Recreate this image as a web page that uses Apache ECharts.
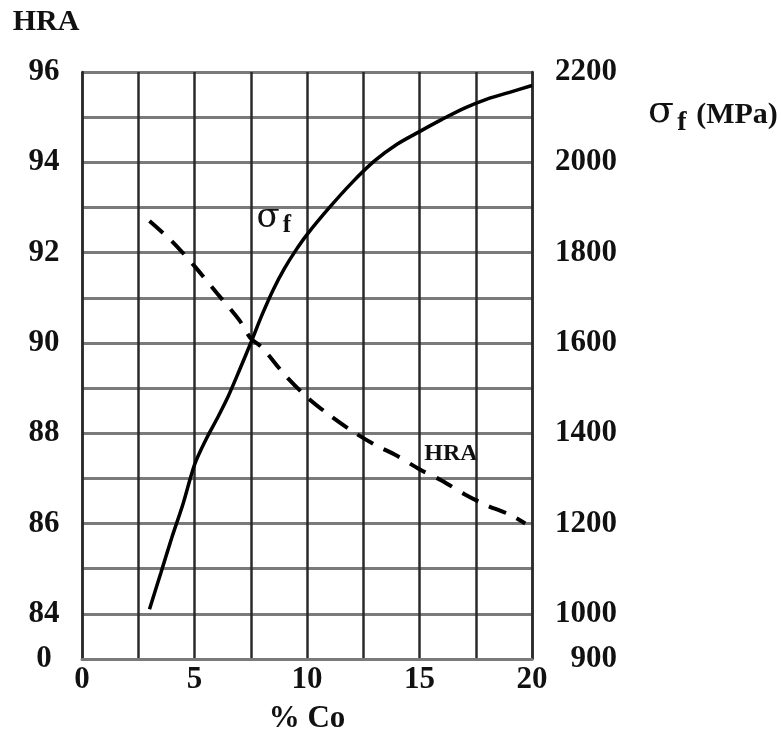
<!DOCTYPE html>
<html>
<head>
<meta charset="utf-8">
<title>HRA and flexural strength vs % Co</title>
<script src="https://cdn.jsdelivr.net/npm/echarts@6/dist/echarts.min.js"></script>
<style>
  html, body { margin: 0; padding: 0; background: #fff; }
  #chart { width: 782px; height: 735px; }
</style>
</head>
<body>
<div id="chart"></div>
<script>
// cobalt content (%) and fracture strength sigma_f (MPa), solid curve
const sigmaCo = [3.0, 3.5, 4.0, 4.5, 5.0, 5.5, 6.0, 6.5, 7.0, 7.5, 8.0, 8.5, 9.0, 9.5, 10.0, 11.0, 12.0, 13.0, 14.0, 15.0, 16.0, 17.0, 18.0, 19.0, 20.0];
const sigmaMPa = [1010, 1090, 1170, 1245, 1330, 1385, 1432, 1482, 1540, 1600, 1662, 1718, 1765, 1805, 1840, 1900, 1955, 2003, 2040, 2068, 2095, 2120, 2140, 2155, 2170];

// hardness HRA, dashed curve
const hraCo = [3.0, 4.0, 5.0, 6.0, 7.0, 7.5, 8.0, 9.0, 10.0, 11.0, 12.0, 13.0, 14.0, 15.0, 16.0, 17.0, 18.0, 19.0, 19.7];
const hraVal = [92.7, 92.25, 91.7, 91.1, 90.5, 90.1, 89.9, 89.3, 88.8, 88.4, 88.05, 87.75, 87.5, 87.2, 86.95, 86.65, 86.4, 86.2, 86.0];

// tick labels (axis is broken: the lowest line is labelled 0 / 900)
const xTickLabels = [0, 5, 10, 15, 20];
const hraTickLabels = { 83: '0', 84: '84', 86: '86', 88: '88', 90: '90', 92: '92', 94: '94', 96: '96' };
const mpaTickLabels = { 900: '900', 1000: '1000', 1200: '1200', 1400: '1400', 1600: '1600', 1800: '1800', 2000: '2000', 2200: '2200' };

const serif = '"Liberation Serif", "DejaVu Serif", serif';
const greek = '"DejaVu Serif", serif';
const darkLine = '#2a2a2a';
const greyLine = '#7a7a7a';

var chart = echarts.init(document.getElementById('chart'), null, { renderer: 'canvas' });

const labelStyle = {
  fontFamily: serif,
  fontWeight: 'bold',
  fontSize: 31,
  color: '#111'
};

var option = {
  backgroundColor: '#ffffff',
  animation: false,
  grid: { left: 82, right: 250, top: 72, bottom: 76, outerBoundsMode: 'none', containLabel: false },
  xAxis: {
    type: 'value',
    min: 0,
    max: 20,
    interval: 2.5,
    name: '% Co',
    nameLocation: 'middle',
    nameGap: 44,
    nameTextStyle: { fontFamily: serif, fontWeight: 'bold', fontSize: 31, color: '#111' },
    axisLine: { show: true, lineStyle: { color: greyLine, width: 3 } },
    axisTick: { show: false },
    axisLabel: Object.assign({}, labelStyle, {
      margin: 5,
      formatter: function (v) {
        return xTickLabels.indexOf(v) >= 0 ? String(v) : '';
      }
    }),
    splitLine: { show: true, lineStyle: { color: darkLine, width: 2.5 } }
  },
  yAxis: [
    {
      type: 'value',
      min: 83,
      max: 96,
      interval: 1,
      position: 'left',
      axisLine: { show: true, lineStyle: { color: darkLine, width: 2.5 } },
      axisTick: { show: false },
      axisLabel: Object.assign({}, labelStyle, {
        margin: 38,
        align: 'center',
        padding: [0, 0, 6, 0],
        formatter: function (v) { return hraTickLabels[v] || ''; }
      }),
      splitLine: { show: true, lineStyle: { color: greyLine, width: 3 } }
    },
    {
      type: 'value',
      min: 900,
      max: 2200,
      interval: 100,
      position: 'right',
      axisLine: { show: true, lineStyle: { color: darkLine, width: 2.5 } },
      axisTick: { show: false },
      axisLabel: Object.assign({}, labelStyle, {
        margin: 85,
        align: 'right',
        padding: [0, 0, 6, 0],
        formatter: function (v) { return mpaTickLabels[v] || ''; }
      }),
      splitLine: { show: false }
    }
  ],
  series: [
    {
      name: 'sigma_f',
      type: 'line',
      yAxisIndex: 1,
      smooth: 0.3,
      showSymbol: false,
      lineStyle: { color: '#000', width: 3.5 },
      data: sigmaCo.map((c, i) => [c, sigmaMPa[i]])
    },
    {
      name: 'HRA',
      type: 'line',
      yAxisIndex: 0,
      smooth: 0.3,
      showSymbol: false,
      lineStyle: { color: '#000', width: 4, type: [18, 12] },
      data: hraCo.map((c, i) => [c, hraVal[i]])
    }
  ],
  graphic: [
    // left axis title
    { type: 'text', style: { text: 'HRA', x: 46, y: 22, textAlign: 'center', textVerticalAlign: 'middle',
        font: 'bold 30px ' + serif, fill: '#111' } },
    // right axis title: sigma_f (MPa)
    { type: 'text', style: { text: 'σ', x: 661, y: 112, textAlign: 'center', textVerticalAlign: 'middle',
        font: '38px ' + greek, fill: '#111' } },
    { type: 'text', style: { text: 'f', x: 682, y: 123, textAlign: 'center', textVerticalAlign: 'middle',
        font: 'bold 28px ' + serif, fill: '#111' } },
    { type: 'text', style: { text: '(MPa)', x: 737, y: 115, textAlign: 'center', textVerticalAlign: 'middle',
        font: 'bold 30px ' + serif, fill: '#111' } },
    // curve labels inside the plot
    { type: 'text', style: { text: 'σ', x: 268, y: 218, textAlign: 'center', textVerticalAlign: 'middle',
        font: '34px ' + greek, fill: '#111' } },
    { type: 'text', style: { text: 'f', x: 287, y: 226, textAlign: 'center', textVerticalAlign: 'middle',
        font: 'bold 25px ' + serif, fill: '#111' } },
    { type: 'text', style: { text: 'HRA', x: 451, y: 454, textAlign: 'center', textVerticalAlign: 'middle',
        font: 'bold 24px ' + serif, fill: '#111' } }
  ]
};

chart.setOption(option);
</script>
</body>
</html>
